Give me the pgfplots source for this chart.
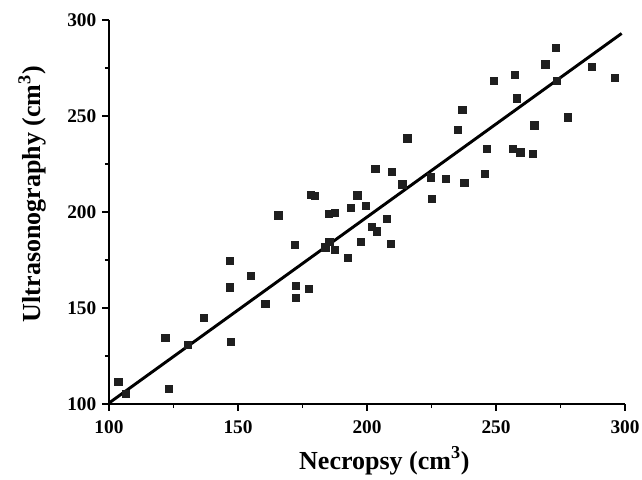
\documentclass[border=0pt]{standalone}
\usepackage{fontspec}
\setmainfont{Liberation Serif}
\usepackage{pgfplots}
\pgfplotsset{compat=1.18}

\begin{document}
\begin{tikzpicture}[x=0.75pt,y=0.75pt]
  \begin{axis}[
      at={(0,0)}, anchor=origin,
      scale only axis,
      width=387pt, height=288pt,
      xmin=100, xmax=300, ymin=100, ymax=300,
      xtick={100,150,...,300}, ytick={100,150,...,300},
      minor x tick num=1, minor y tick num=1,
      axis x line*=bottom, axis y line*=left,
      axis line style={line width=1.1pt, -},
      tick style={line width=0.9pt, black},
      tick align=outside,
      major tick length=5pt, minor tick length=3pt,
      /pgf/number format/assume math mode=true,
      ticklabel style={font=\fontsize{14.5}{16}\selectfont\bfseries},
      xticklabel style={yshift=-4pt},
      yticklabel style={xshift=-1pt},
      xlabel={Necropsy (cm\textsuperscript{3})},
      ylabel={Ultrasonography (cm\textsuperscript{3})},
      label style={font=\fontsize{19.5}{22}\selectfont\bfseries},
      xlabel style={yshift=-3pt, xshift=13pt},
      ylabel style={yshift=9pt, xshift=13.5pt},
      clip=false,
    ]
    \addplot[only marks, mark=square*, mark size=2.7pt, color=black!88] coordinates {
      (103.6,111.6) (106.5,105.2) (121.8,134.4) (123.1,107.8) (130.5,130.7)
      (136.8,145.1) (146.9,174.5) (146.9,160.8) (147.3,132.5) (154.8,166.8)
      (160.6,152.4) (165.6,198.3) (172.0,183.0) (172.4,161.6) (172.5,155.2)
      (177.4,159.9) (178.3,208.9) (179.6,208.5) (183.8,181.6) (185.3,199.1)
      (185.4,184.4) (187.6,199.8) (187.5,180.4) (192.5,176.2) (193.7,202.3)
      (196.2,208.7) (197.6,184.5) (199.6,203.1) (201.7,192.3) (203.8,190.0)
      (203.2,222.4) (209.6,220.8) (207.6,196.5) (209.2,183.5) (213.7,214.4)
      (215.6,238.4) (224.7,218.1) (225.1,207.1) (230.5,217.5) (235.2,242.7)
      (236.9,253.1) (237.7,215.1) (245.5,219.8) (246.4,232.8) (249.1,268.4)
      (256.6,232.8) (259.4,231.1) (257.4,271.4) (258.1,259.2) (264.1,230.2)
      (264.8,245.2) (269.1,276.9) (273.3,285.6) (273.5,268.4) (277.9,249.3)
      (287.1,275.7) (296.1,269.8)
    };
    \addplot[black, line width=2.2pt, no marks] coordinates {(100,100.5) (298.7,293)};
  \end{axis}
  \pgfresetboundingbox
  \useasboundingbox (-109,-75) rectangle (533,404);
\end{tikzpicture}
\end{document}
